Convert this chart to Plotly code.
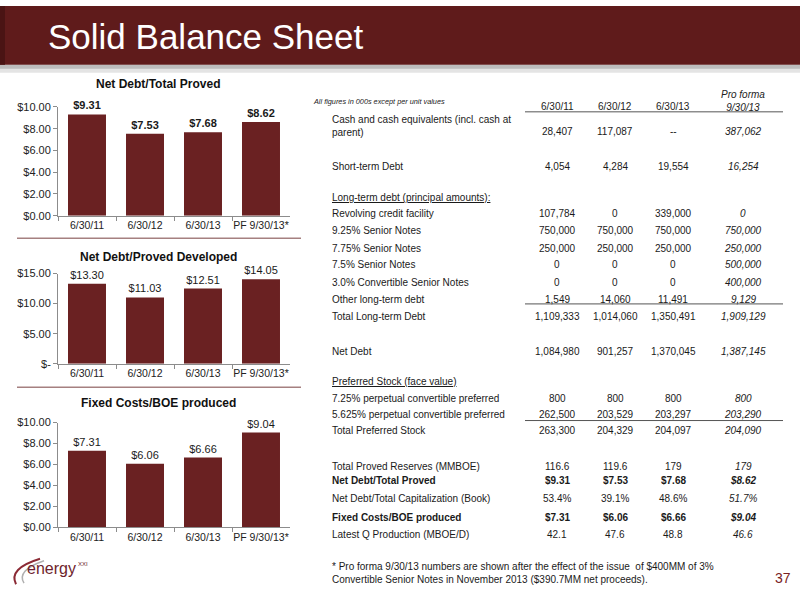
import plotly.graph_objects as go

W, H = 800, 600

# ---- chart data ----
periods = ["6/30/11", "6/30/12", "6/30/13", "PF 9/30/13*"]
net_debt_total_proved = [9.31, 7.53, 7.68, 8.62]
net_debt_proved_dev = [13.30, 11.03, 12.51, 14.05]
fixed_costs_boe = [7.31, 6.06, 6.66, 9.04]

ticks_10 = [0, 2, 4, 6, 8, 10]
ticks_10_text = ["$0.00", "$2.00", "$4.00", "$6.00", "$8.00", "$10.00"]
ticks_15 = [0, 5, 10, 15]
ticks_15_text = ["$-", "$5.00", "$10.00", "$15.00"]

# ---- table data ----
col_headers = ["6/30/11", "6/30/12", "6/30/13"]
row_labels = [
    "Cash and cash equivalents (incl. cash at<br>parent)",
    "Short-term Debt",
    "<u>Long-term debt (principal amounts):</u>",
    "Revolving credit facility",
    "9.25% Senior Notes",
    "7.75% Senior Notes",
    "7.5% Senior Notes",
    "3.0% Convertible Senior Notes",
    "Other long-term debt",
    "Total Long-term Debt",
    "Net Debt",
    "<u>Preferred Stock (face value)</u>",
    "7.25% perpetual convertible preferred",
    "5.625% perpetual convertible preferred",
    "Total Preferred Stock",
    "Total Proved Reserves (MMBOE)",
    "Net Debt/Total Proved",
    "Net Debt/Total Capitalization (Book)",
    "Fixed Costs/BOE produced",
    "Latest Q Production (MBOE/D)",
]
vals_2011 = ["28,407", "4,054", "", "107,784", "750,000", "250,000", "0", "0", "1,549",
             "1,109,333", "1,084,980", "", "800", "262,500", "263,300", "116.6", "$9.31",
             "53.4%", "$7.31", "42.1"]
vals_2012 = ["117,087", "4,284", "", "0", "750,000", "250,000", "0", "0", "14,060",
             "1,014,060", "901,257", "", "800", "203,529", "204,329", "119.6", "$7.53",
             "39.1%", "$6.06", "47.6"]
vals_2013 = ["--", "19,554", "", "339,000", "750,000", "250,000", "0", "0", "11,491",
             "1,350,491", "1,370,045", "", "800", "203,297", "204,097", "179", "$7.68",
             "48.6%", "$6.66", "48.8"]
vals_pf = ["387,062", "16,254", "", "0", "750,000", "250,000", "500,000", "400,000", "9,129",
           "1,909,129", "1,387,145", "", "800", "203,290", "204,090", "179", "$8.62",
           "51.7%", "$9.04", "46.6"]
bold_rows = {"Net Debt/Total Proved", "Fixed Costs/BOE produced"}

footnote = ("* Pro forma 9/30/13 numbers are shown after the effect of the issue  of $400MM of 3%<br>"
            "Convertible Senior Notes in November 2013 ($390.7MM net proceeds).")

# ---- layout helpers (pixel -> paper) ----
def px(x):
    return x / W


def py(y):
    return 1 - y / H


FONT = "Liberation Sans"
BAR = "#6A2122"
MAROON = "#5F1B1B"
AXIS = "#8c8c8c"

fig = go.Figure()

charts = [
    ("Net Debt/Total Proved", net_debt_total_proved, ticks_10, ticks_10_text, 10, (214, 103), 80, True),
    ("Net Debt/Proved Developed", net_debt_proved_dev, ticks_15, ticks_15_text, 15, (365, 273), 256, False),
    ("Fixed Costs/BOE produced", fixed_costs_boe, ticks_10, ticks_10_text, 10, (532, 425), 405, False),
]

annotations = []
for i, (title, vals, tv, tt, ymax, (ybot, ytop), title_y, bold) in enumerate(charts, start=1):
    suffix = "" if i == 1 else str(i)
    tmpl = "<b>$%{y:.2f}</b>" if bold else "$%{y:.2f}"
    fig.add_trace(go.Bar(
        x=periods, y=vals, xaxis="x" + suffix, yaxis="y" + suffix,
        marker=dict(color=BAR, line=dict(width=0)),
        texttemplate=tmpl, textposition="outside", cliponaxis=False,
        constraintext="none",
        textfont=dict(size=11, color="#1a1a1a", family=FONT),
        hoverinfo="skip", showlegend=False,
    ))
    fig.update_layout(**{
        "xaxis" + suffix: dict(
            domain=[px(58), px(290)], anchor="y" + suffix,
            showline=True, linecolor=AXIS, ticks="outside", tickson="boundaries",
            ticklen=4, tickcolor=AXIS, showgrid=False, fixedrange=True, tickangle=0,
            tickfont=dict(size=10.5, color="#222", family=FONT),
        ),
        "yaxis" + suffix: dict(
            domain=[py(ybot), py(ytop)], anchor="x" + suffix, range=[0, ymax],
            tickvals=tv, ticktext=tt, showline=True, linecolor=AXIS,
            ticks="outside", ticklen=4, tickcolor=AXIS, showgrid=False,
            zeroline=False, fixedrange=True,
            tickfont=dict(size=11, color="#222", family=FONT),
        ),
    })
    annotations.append(dict(
        x=px(158), y=py(title_y), xref="paper", yref="paper", showarrow=False,
        text="<b>" + title + "</b>", font=dict(size=12, color="#111", family=FONT),
        xanchor="center", yanchor="middle",
    ))

# slide title
annotations.append(dict(
    x=px(46), y=py(31), xref="paper", yref="paper", showarrow=False,
    text="Solid Balance Sheet", font=dict(size=35, color="white", family=FONT),
    xanchor="left", yanchor="middle",
))

# table header
annotations.append(dict(
    x=px(311), y=py(97), xref="paper", yref="paper", showarrow=False,
    text="<i>All figures in 000s except per unit values</i>",
    font=dict(size=7.3, color="#222", family=FONT), xanchor="left", yanchor="middle",
))
col_x = [557, 615, 673, 743]
for cx, hdr in zip(col_x, col_headers):
    annotations.append(dict(
        x=px(cx), y=py(103), xref="paper", yref="paper", showarrow=False, text=hdr,
        font=dict(size=10, color="#222", family=FONT), xanchor="center", yanchor="middle",
    ))
annotations.append(dict(
    x=px(col_x[3]), y=py(97), xref="paper", yref="paper", showarrow=False,
    text="<i>Pro forma</i><br><i>9/30/13</i>",
    font=dict(size=10, color="#222", family=FONT), xanchor="center", yanchor="middle",
))

row_y = [128, 164, 195, 212, 229, 247, 264, 282, 299, 317, 353, 383, 400, 417, 433,
         470, 484, 503, 522, 539]
for k, label in enumerate(row_labels):
    b = label in bold_rows
    ly = row_y[k] - 5.5 if "<br>" in label else row_y[k]
    annotations.append(dict(
        x=px(330), y=py(ly), xref="paper", yref="paper", showarrow=False,
        text="<b>" + label + "</b>" if b else label, align="left",
        font=dict(size=10, color="#1a1a1a", family=FONT), xanchor="left", yanchor="middle",
    ))
    for j, col in enumerate([vals_2011, vals_2012, vals_2013, vals_pf]):
        v = col[k]
        if not v:
            continue
        if j == 3:
            v = "<i>" + v + "</i>"
        if b:
            v = "<b>" + v + "</b>"
        annotations.append(dict(
            x=px(col_x[j]), y=py(row_y[k]), xref="paper", yref="paper", showarrow=False,
            text=v, font=dict(size=10, color="#1a1a1a", family=FONT),
            xanchor="center", yanchor="middle",
        ))

# footnote, page number, logo
annotations.append(dict(
    x=px(330), y=py(578.5), xref="paper", yref="paper", showarrow=False, text=footnote,
    align="left", font=dict(size=10, color="#1a1a1a", family=FONT),
    xanchor="left", yanchor="middle",
))
annotations.append(dict(
    x=px(783), y=py(584), xref="paper", yref="paper", showarrow=False, text="37",
    font=dict(size=14, color="#7a2222", family=FONT), xanchor="center", yanchor="middle",
))
annotations.append(dict(
    x=px(25), y=py(574), xref="paper", yref="paper", showarrow=False,
    text="energy", font=dict(size=16, color="#6e1e2c", family=FONT),
    xanchor="left", yanchor="middle",
))
annotations.append(dict(
    x=px(76), y=py(569), xref="paper", yref="paper", showarrow=False,
    text="XXI", font=dict(size=6, color="#6e1e2c", family=FONT),
    xanchor="left", yanchor="middle",
))

shapes = [
    # title bar with shadow
    dict(type="rect", xref="paper", yref="paper", x0=0, x1=1, y0=py(68), y1=py(60),
         fillcolor="#e4e4e4", line_width=0, layer="below"),
    dict(type="rect", xref="paper", yref="paper", x0=0, x1=1, y0=py(64), y1=py(60),
         fillcolor="#bdbdbd", line_width=0, layer="below"),
    dict(type="rect", xref="paper", yref="paper", x0=0, x1=1, y0=py(60), y1=1,
         fillcolor=MAROON, line_width=0, layer="below"),
    dict(type="rect", xref="paper", yref="paper", x0=0, x1=px(5), y0=py(60), y1=1,
         fillcolor="#4a1414", line_width=0, layer="below"),
    # chart separators
    dict(type="line", xref="paper", yref="paper", x0=px(17), x1=px(301), y0=py(237), y1=py(237),
         line=dict(color="#a58080", width=1.5)),
    dict(type="line", xref="paper", yref="paper", x0=px(17), x1=px(301), y0=py(389), y1=py(389),
         line=dict(color="#a58080", width=1.5)),
    # table rules
    dict(type="line", xref="paper", yref="paper", x0=px(525), x1=px(783), y0=py(108), y1=py(108),
         line=dict(color="#555", width=1)),
    dict(type="line", xref="paper", yref="paper", x0=px(525), x1=px(783), y0=py(304), y1=py(304),
         line=dict(color="#555", width=1)),
    dict(type="line", xref="paper", yref="paper", x0=px(525), x1=px(783), y0=py(423), y1=py(423),
         line=dict(color="#555", width=1)),
    # logo swoosh
    dict(type="path", xref="paper", yref="paper",
         path=f"M {px(40)},{py(564)} Q {px(8)},{py(574)} {px(16)},{py(590)}",
         line=dict(color="#8b2a35", width=2)),
    dict(type="path", xref="paper", yref="paper",
         path=f"M {px(44)},{py(566)} Q {px(16)},{py(576)} {px(24)},{py(589)}",
         line=dict(color="#b0b0b0", width=1.5)),
]

fig.update_layout(
    width=W, height=H, margin=dict(l=0, r=0, t=0, b=0),
    paper_bgcolor="white", plot_bgcolor="white",
    bargap=0.345, showlegend=False,
    font=dict(family=FONT, color="#222"),
    annotations=annotations, shapes=shapes,
)

# the page's default body margin would push the slide 8px off the window
fig.write_html("out.html", config={"displayModeBar": False},
               post_script="document.body.style.margin='0';")
